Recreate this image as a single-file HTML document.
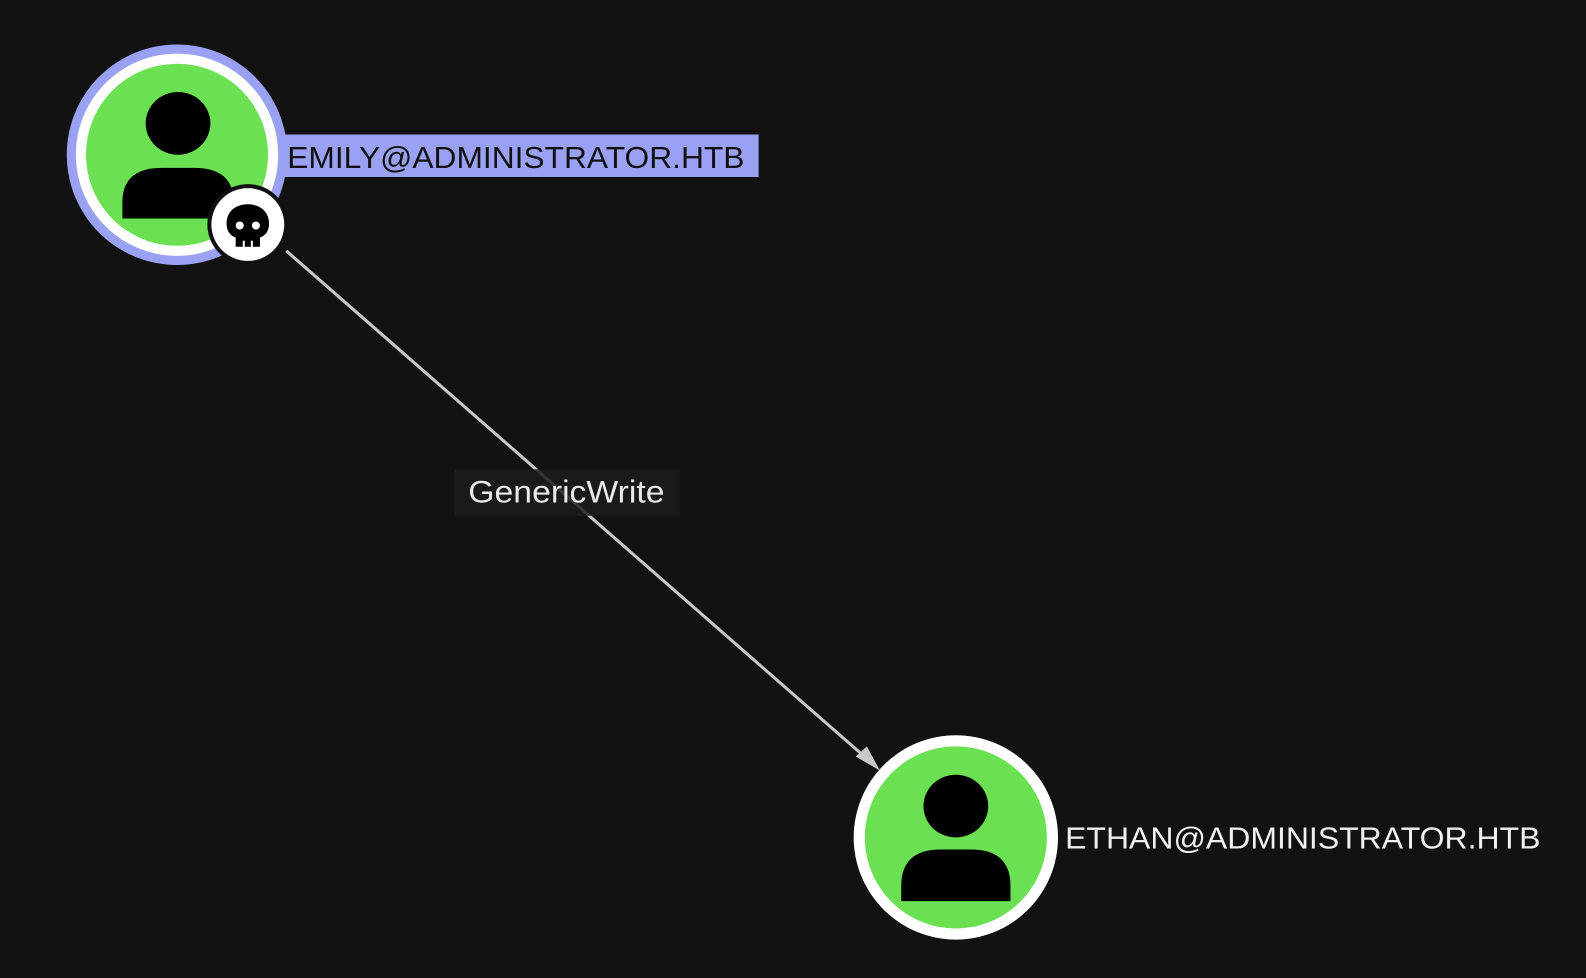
<!DOCTYPE html>
<html><head><meta charset="utf-8"><style>
html,body{margin:0;padding:0;background:#121212;width:1586px;height:978px;overflow:hidden}
svg{display:block}
text{font-family:"Liberation Sans",sans-serif}
</style></head><body>
<svg width="1586" height="978" viewBox="0 0 1568 967" preserveAspectRatio="none">
<rect width="1568" height="967" fill="#121212"/>
<line x1="283" y1="248" x2="858" y2="751" stroke="#c8c8c8" stroke-width="3"/>
<polygon points="870,762 846,748 857,738" fill="#c8c8c8"/>
<rect x="449" y="464" width="223" height="46" fill="#1c1c1c" fill-opacity="0.85"/>
<text x="463" y="497" font-size="31" fill="#e8e8e8" textLength="194" lengthAdjust="spacingAndGlyphs">GenericWrite</text>
<rect x="276" y="133" width="474" height="42" fill="#9aa0f2"/>
<text x="284" y="166" font-size="30" fill="#111" textLength="452" lengthAdjust="spacingAndGlyphs">EMILY@ADMINISTRATOR.HTB</text>
<circle cx="175" cy="153" r="109" fill="#9aa0f2"/>
<circle cx="175" cy="153" r="100" fill="#ffffff"/>
<circle cx="175" cy="153" r="90" fill="#6ae052"/>
<ellipse cx="176" cy="122" rx="32" ry="31" fill="#000"/>
<path d="M121,216 L121,200 Q121,166 160,166 L192,166 Q231,166 231,200 L231,216 Z" fill="#000"/>
<circle cx="245" cy="222" r="40" fill="#111"/>
<circle cx="245" cy="222" r="36" fill="#fff"/>
<path d="M245,202 C232,202 224,210 224,221 C224,229 228,233 233,235 L233,244 L257,244 L257,235 C262,233 266,229 266,221 C266,210 258,202 245,202 Z" fill="#000"/>
<circle cx="237" cy="223" r="4" fill="#fff"/>
<circle cx="253" cy="223" r="4" fill="#fff"/>
<rect x="240" y="238" width="2" height="6" fill="#fff"/>
<rect x="248" y="238" width="2" height="6" fill="#fff"/>
<circle cx="945" cy="828" r="101" fill="#ffffff"/>
<circle cx="945" cy="828" r="90" fill="#6ae052"/>
<ellipse cx="945" cy="797" rx="32" ry="31" fill="#000"/>
<path d="M891,891 L891,876 Q891,840 930,840 L960,840 Q999,840 999,876 L999,891 Z" fill="#000"/>
<text x="1053" y="839" font-size="30" fill="#f0f0f0" textLength="470" lengthAdjust="spacingAndGlyphs">ETHAN@ADMINISTRATOR.HTB</text>
</svg>
</body></html>
